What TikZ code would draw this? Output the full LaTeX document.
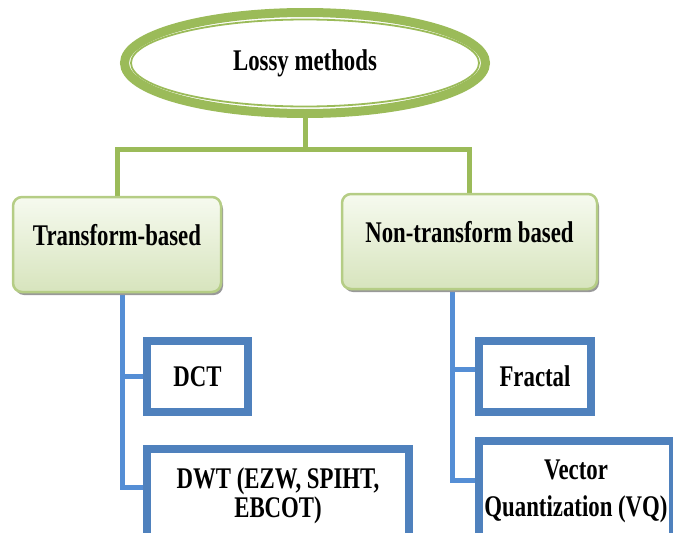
\documentclass[tikz,border=0pt]{standalone}
\usepackage{fontspec}
\setmainfont{Liberation Serif}
\newfontfamily\diafont[FakeStretch=0.76]{Liberation Serif}
\usetikzlibrary{shapes.geometric,shadows,backgrounds}
\definecolor{olivegreen}{HTML}{9BBB59}
\definecolor{lightolive}{HTML}{B5CD85}
\definecolor{boxtop}{HTML}{F6FAEF}
\definecolor{boxbottom}{HTML}{D7E4BD}
\definecolor{officeblue}{HTML}{4F81BD}
\definecolor{lineblue}{HTML}{558ED5}
\begin{document}
\begin{tikzpicture}[x=1pt,y=-1pt,
    every node/.style={font=\diafont\bfseries\fontsize{30}{29}\selectfont},
    greenbox/.style={draw=lightolive, line width=2.5pt, rounded corners=9pt,
      top color=boxtop, bottom color=boxbottom,
      drop shadow={shadow xshift=2pt, shadow yshift=-3pt, fill=black!40, opacity=1},
      text height=20pt, text depth=19pt},
    bluebox/.style={draw=officeblue, line width=8pt, fill=white, align=center, inner sep=2pt},
    greenline/.style={draw=olivegreen, line width=5pt},
    blueline/.style={draw=lineblue, line width=5pt}]
    \useasboundingbox (0,0) rectangle (673,533);
    \clip (0,0) rectangle (673,533);
    % top of the tree
    \node[ellipse, draw=olivegreen, line width=9pt, minimum width=361pt, minimum height=101pt, inner sep=0pt] (lossy) at (305,63) {Lossy methods};
    \draw[olivegreen, line width=1.8pt] (lossy.center) ellipse [x radius=174pt, y radius=43.5pt];
    \coordinate (split) at (305,149);
    % the two families
    \node[greenbox, minimum width=208pt, minimum height=95pt] (trans) at (117,244.5) {Transform-based};
    \node[greenbox, minimum width=255pt, minimum height=95pt] (nontrans) at (469.5,241.5) {Non-transform based};
    % the methods
    \node[bluebox, minimum width=101pt, minimum height=71pt] (dct) at (197.5,376.5) {DCT};
    \node[bluebox, minimum width=262pt, minimum height=94pt] (dwt) at (278,496) {DWT (EZW, SPIHT,\\EBCOT)};
    \node[bluebox, minimum width=112pt, minimum height=71pt] (fractal) at (535,376.5) {Fractal};
    \node[bluebox, minimum width=194pt, minimum height=100pt] (vq) at (576,491) {Vector\\[8pt]Quantization (VQ)};
    \begin{scope}[on background layer]
      \draw[greenline] (lossy.south) -- (split);
      \draw[greenline] (trans.north) |- (split) -| (nontrans.north);
      \draw[blueline] ([xshift=5pt]trans.south) |- (dct.west);
      \draw[blueline] ([xshift=5pt]trans.south) |- ([yshift=9pt]dwt.west);
      \draw[blueline] ([xshift=-17.5pt]nontrans.south) |- ([yshift=7.5pt]fractal.west);
      \draw[blueline] ([xshift=-17.5pt]nontrans.south) |- ([yshift=11pt]vq.west);
    \end{scope}
\end{tikzpicture}
\end{document}
